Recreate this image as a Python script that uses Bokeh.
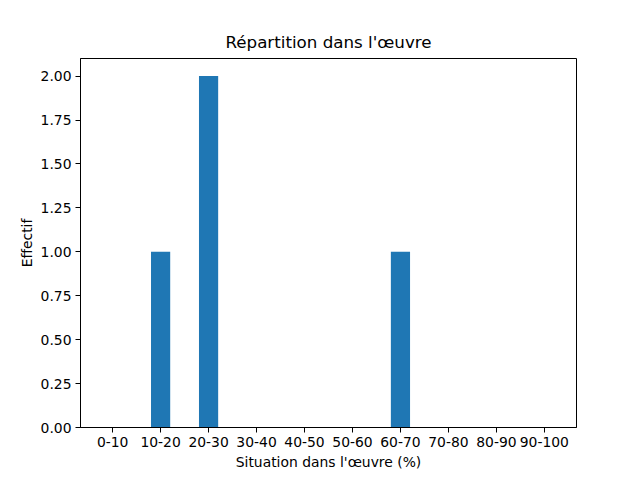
from bokeh.plotting import figure
from bokeh.models import Range1d, FixedTicker
from bokeh.embed import file_html
from bokeh.resources import INLINE

categories = ["0-10", "10-20", "20-30", "30-40", "40-50", "50-60", "60-70", "70-80", "80-90", "90-100"]
counts = [0, 1, 2, 0, 0, 0, 1, 0, 0, 0]
y_ticks = [0.0, 0.25, 0.5, 0.75, 1.0, 1.25, 1.5, 1.75, 2.0]

xs = list(range(len(categories)))
FONT = "DejaVu Sans"

p = figure(frame_width=496, frame_height=369, output_backend="svg", toolbar_location=None,
           x_range=Range1d(-0.67, 9.67), y_range=Range1d(0, 2.1),
           title="Répartition dans l'œuvre")
p.min_border_left = 80
p.min_border_right = 64
p.min_border_top = 58
p.min_border_bottom = 53

p.vbar(x=xs, top=counts, width=0.4, bottom=0, color="#1f77b4", line_color=None)

p.title.align = "center"
p.title.text_font = FONT
p.title.text_font_size = "16.7px"
p.title.text_font_style = "normal"
p.title.text_color = "black"
p.title.offset = 0
p.title.standoff = 13

p.xgrid.visible = False
p.ygrid.visible = False
p.outline_line_color = "black"
p.outline_line_width = 1

p.xaxis.ticker = FixedTicker(ticks=xs)
p.xaxis.major_label_overrides = {i: c for i, c in enumerate(categories)}
p.yaxis.ticker = FixedTicker(ticks=y_ticks)
p.yaxis.major_label_overrides = {v: f"{v:.2f}" for v in y_ticks}
p.xaxis.axis_label = "Situation dans l'œuvre (%)"
p.yaxis.axis_label = "Effectif"

for ax in (p.xaxis, p.yaxis):
    ax.minor_tick_line_color = None
    ax.major_tick_out = 5
    ax.major_tick_in = 0
    ax.axis_line_color = "black"
    ax.major_tick_line_color = "black"
    ax.major_label_text_font = FONT
    ax.major_label_text_font_size = "13.9px"
    ax.major_label_text_color = "black"
    ax.axis_label_text_font = FONT
    ax.axis_label_text_font_size = "13.9px"
    ax.axis_label_text_font_style = "normal"
    ax.axis_label_text_color = "black"
    ax.major_label_standoff = 4
p.xaxis.axis_label_standoff = 4
p.yaxis.axis_label_standoff = 3

open("out.html", "w").write(file_html(p, INLINE))
